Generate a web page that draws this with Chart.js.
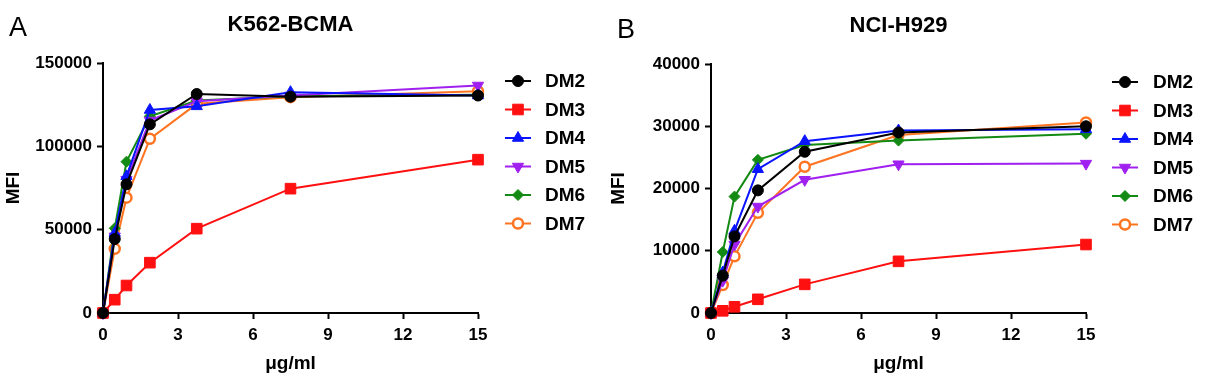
<!DOCTYPE html>
<html>
<head>
<meta charset="utf-8">
<script src="https://cdn.jsdelivr.net/npm/chart.js@4.4.1/dist/chart.umd.min.js"></script>
<style>
  html, body { margin: 0; padding: 0; background: #fff; }
  .panel { position: absolute; top: 0; width: 605px; height: 381px; }
  #pa { left: 0; }
  #pb { left: 605px; }
</style>
</head>
<body>
<div class="panel" id="pa"><canvas id="ca" width="605" height="381"></canvas></div>
<div class="panel" id="pb"><canvas id="cb" width="605" height="381"></canvas></div>
<script>
// ---- data ----
const concentrations = [0, 0.47, 0.94, 1.875, 3.75, 7.5, 15];
const seriesNames = ['DM2', 'DM3', 'DM4', 'DM5', 'DM6', 'DM7'];
const xTicks = [0, 3, 6, 9, 12, 15];

const k562_DM2 = [0, 44400, 77200, 113200, 131400, 129800, 130500];
const k562_DM3 = [0, 8000, 16500, 30200, 50600, 74600, 92000];
const k562_DM4 = [0, 48000, 82000, 121800, 124000, 132500, 130500];
const k562_DM5 = [0, 46000, 80000, 115500, 127000, 130500, 136500];
const k562_DM6 = [0, 50800, 90800, 118000, 127500, 130000, 131000];
const k562_DM7 = [0, 38500, 69200, 104500, 125500, 129500, 133000];
const k562_yTicks = [0, 50000, 100000, 150000];

const h929_DM2 = [0, 6000, 12300, 19700, 25900, 29000, 30000];
const h929_DM3 = [0, 350, 1000, 2200, 4600, 8300, 11000];
const h929_DM4 = [0, 6500, 13200, 23100, 27600, 29300, 29500];
const h929_DM5 = [0, 5200, 11000, 17100, 21400, 23900, 24000];
const h929_DM6 = [0, 9800, 18700, 24600, 27000, 27700, 28800];
const h929_DM7 = [0, 4500, 9100, 16100, 23500, 28600, 30600];
const h929_yTicks = [0, 10000, 20000, 30000, 40000];

// ---- styles ----
const FONT = '"Liberation Sans", Arial, Helvetica, sans-serif';
const styles = [
  { color: '#000000', pointStyle: 'circle',   radius: 5.5, fill: '#000000', rotation: 0 },
  { color: '#ff1010', pointStyle: 'rect',     radius: 7.5, fill: '#ff1010', rotation: 0 },
  { color: '#0a14ff', pointStyle: 'triangle', radius: 6.5, fill: '#0a14ff', rotation: 0 },
  { color: '#a020f0', pointStyle: 'triangle', radius: 6.5, fill: '#a020f0', rotation: 180 },
  { color: '#138a13', pointStyle: 'rectRot',  radius: 5.5, fill: '#138a13', rotation: 0 },
  { color: '#ff7420', pointStyle: 'circle',   radius: 5,   fill: '#ffffff', rotation: 0, bw: 2.5 }
];

function makeDatasets(arrays) {
  return arrays.map((vals, i) => {
    const s = styles[i];
    return {
      label: seriesNames[i],
      data: concentrations.map((x, j) => ({ x: x, y: vals[j] })),
      borderColor: s.color,
      backgroundColor: s.fill,
      borderWidth: 2,
      pointStyle: s.pointStyle,
      pointRadius: s.radius,
      pointRotation: s.rotation,
      pointBackgroundColor: s.fill,
      pointBorderColor: s.color,
      pointBorderWidth: s.bw || 1,
      tension: 0,
      clip: false
    };
  });
}

const decorPlugin = {
  id: 'decor',
  afterDraw(chart, args, o) {
    const ctx = chart.ctx;
    const area = chart.chartArea;
    ctx.save();
    ctx.fillStyle = '#000';
    // panel letter
    ctx.font = '27px ' + FONT;
    ctx.textAlign = 'left';
    ctx.textBaseline = 'middle';
    ctx.fillText(o.letter, o.letterX, o.letterY);
    // title
    ctx.font = 'bold 22px ' + FONT;
    ctx.textAlign = 'center';
    ctx.fillText(o.title, (area.left + area.right) / 2, o.titleY);
    // legend
    chart.data.datasets.forEach((ds, i) => {
      const y = o.legTop + i * o.legStep;
      ctx.strokeStyle = ds.borderColor;
      ctx.lineWidth = 2;
      ctx.beginPath();
      ctx.moveTo(o.legX1, y);
      ctx.lineTo(o.legX2, y);
      ctx.stroke();
      ctx.fillStyle = ds.pointBackgroundColor;
      ctx.strokeStyle = ds.pointBorderColor;
      ctx.lineWidth = ds.pointBorderWidth;
      Chart.helpers.drawPoint(ctx, {
        pointStyle: ds.pointStyle,
        radius: ds.pointRadius,
        rotation: ds.pointRotation,
        borderWidth: ds.pointBorderWidth
      }, (o.legX1 + o.legX2) / 2, y);
      ctx.fillStyle = '#000';
      ctx.font = 'bold 19px ' + FONT;
      ctx.textAlign = 'left';
      ctx.textBaseline = 'middle';
      ctx.fillText(ds.label, o.legText, y + 1);
    });
    ctx.restore();
  }
};

function makeChart(id, arrays, yTicks, decor, plotLeft, plotTop, plotRight) {
  const tickFont = { family: FONT, weight: 'bold', size: 17 };
  const titleFont = { family: FONT, weight: 'bold', size: 19 };
  return new Chart(document.getElementById(id), {
    type: 'line',
    data: { datasets: makeDatasets(arrays) },
    plugins: [decorPlugin],
    options: {
      responsive: false,
      animation: false,
      devicePixelRatio: 1,
      layout: { padding: { left: 0, top: plotTop, right: 605 - plotRight, bottom: 0 } },
      plugins: {
        legend: { display: false },
        tooltip: { enabled: false },
        decor: decor
      },
      scales: {
        x: {
          type: 'linear',
          min: xTicks[0],
          max: xTicks[xTicks.length - 1],
          afterBuildTicks: s => { s.ticks = xTicks.map(v => ({ value: v })); },
          afterFit: s => { s.height = 381 - 313; },
          ticks: { color: '#000', font: tickFont, padding: 6, maxRotation: 0, callback: v => String(v) },
          grid: { display: true, drawOnChartArea: false, drawTicks: true, tickLength: 6, tickColor: '#000', tickWidth: 2 },
          border: { display: true, color: '#000', width: 2 },
          title: { display: true, text: 'μg/ml', color: '#000', font: titleFont, padding: { top: 0, bottom: 6 } }
        },
        y: {
          type: 'linear',
          min: yTicks[0],
          max: yTicks[yTicks.length - 1],
          afterBuildTicks: s => { s.ticks = yTicks.map(v => ({ value: v })); },
          afterFit: s => { s.width = plotLeft; },
          ticks: { color: '#000', font: tickFont, padding: 5, callback: v => String(v) },
          grid: { display: true, drawOnChartArea: false, drawTicks: true, tickLength: 6, tickColor: '#000', tickWidth: 2 },
          border: { display: true, color: '#000', width: 2 },
          title: { display: true, text: 'MFI', color: '#000', font: titleFont, padding: { top: 2, bottom: 0 } }
        }
      }
    }
  });
}

makeChart('ca', [k562_DM2, k562_DM3, k562_DM4, k562_DM5, k562_DM6, k562_DM7], k562_yTicks,
  { letter: 'A', letterX: 9, letterY: 29, title: 'K562-BCMA', titleY: 25,
    legX1: 505, legX2: 531, legText: 545, legTop: 81, legStep: 28.5 },
  103, 63, 478);

makeChart('cb', [h929_DM2, h929_DM3, h929_DM4, h929_DM5, h929_DM6, h929_DM7], h929_yTicks,
  { letter: 'B', letterX: 12, letterY: 31, title: 'NCI-H929', titleY: 26,
    legX1: 507, legX2: 533, legText: 548, legTop: 82, legStep: 28.5 },
  106, 64, 481);
</script>
</body>
</html>
